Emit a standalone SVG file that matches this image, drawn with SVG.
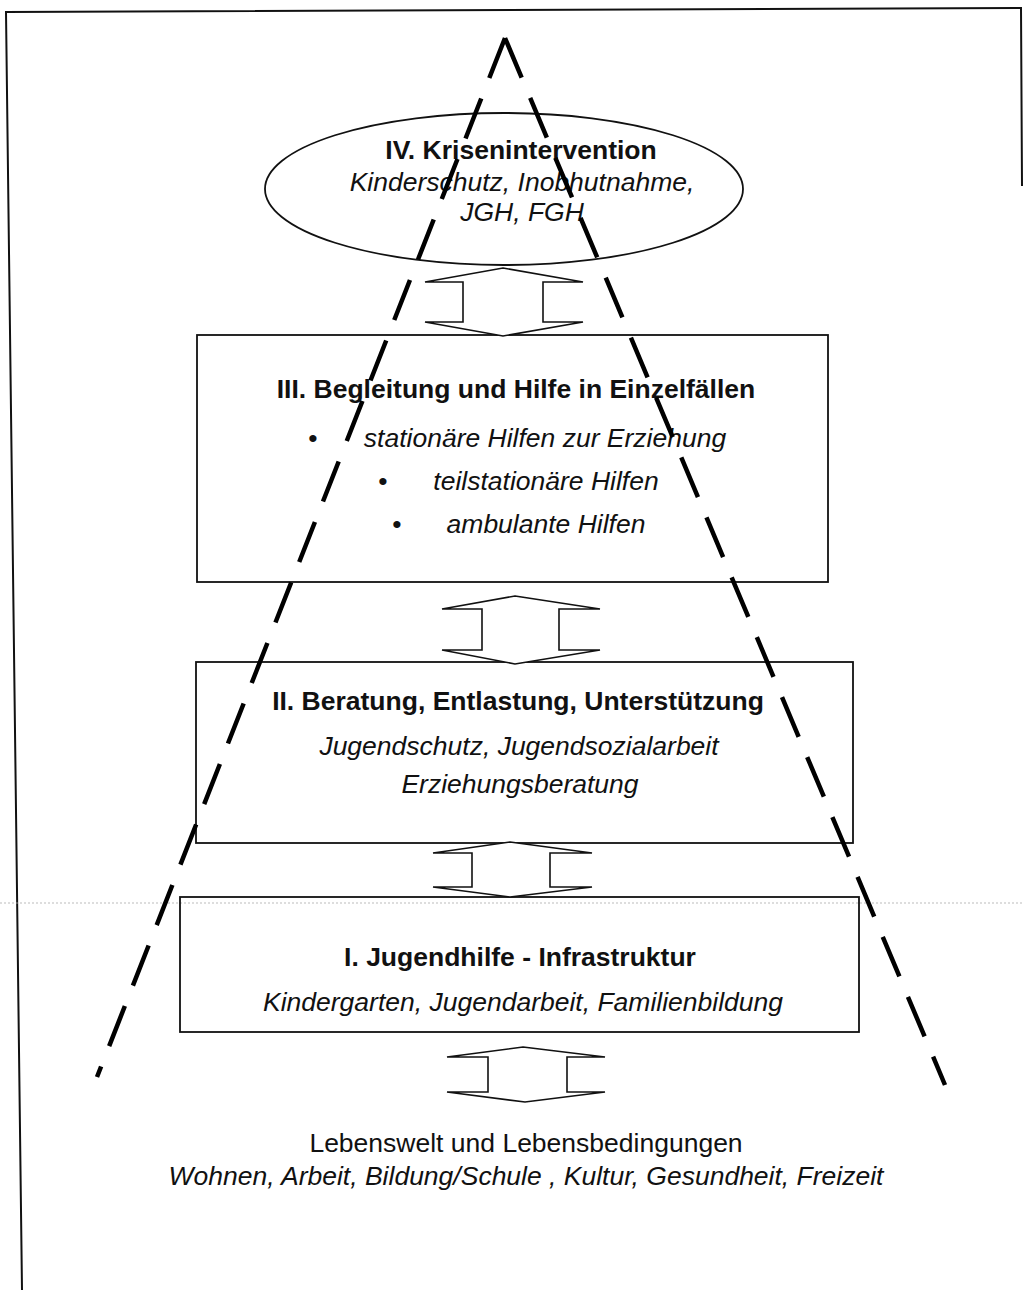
<svg xmlns="http://www.w3.org/2000/svg" width="1024" height="1290" viewBox="0 0 1024 1290">
<style>
.bg{fill:#fff}
.frame{fill:none;stroke:#111;stroke-width:2}
.box{fill:none;stroke:#111;stroke-width:1.8}
.arr{fill:#fff;stroke:#111;stroke-width:1.6;stroke-linejoin:miter}
.dash{fill:none;stroke:#000;stroke-width:4.5;stroke-dasharray:43 22}
.t{font-family:"Liberation Sans",Arial,sans-serif;font-size:26.5px;fill:#111;text-anchor:middle}
.b{font-weight:bold}
.i{font-style:italic}
.scan{stroke:#aaa;stroke-width:0.8;stroke-dasharray:2 2}
</style>
<rect class="bg" x="0" y="0" width="1024" height="1290"/>
<g id="frame">
<polyline class="frame" points="22,1290 6,12 1021,8 1022,186"/>
</g>
<line class="scan" x1="0" y1="903" x2="1024" y2="903"/>
<g id="node-iv">
<ellipse class="box" cx="504" cy="189" rx="239" ry="76"/>
<text class="t b" x="521" y="159">IV. Krisenintervention</text>
<text class="t i" x="522" y="191">Kinderschutz, Inobhutnahme,</text>
<text class="t i" x="522" y="221">JGH, FGH</text>
</g>
<g id="node-iii">
<rect class="box" x="197" y="335" width="631" height="247"/>
<text class="t b" x="516" y="398">III. Begleitung und Hilfe in Einzelfällen</text>
<text class="t" x="313" y="447">•</text>
<text class="t i" x="545" y="447">stationäre Hilfen zur Erziehung</text>
<text class="t" x="383" y="490">•</text>
<text class="t i" x="546" y="490">teilstationäre Hilfen</text>
<text class="t" x="397" y="533">•</text>
<text class="t i" x="546" y="533">ambulante Hilfen</text>
</g>
<g id="node-ii">
<rect class="box" x="196" y="662" width="657" height="181"/>
<text class="t b" x="518" y="710">II. Beratung, Entlastung, Unterstützung</text>
<text class="t i" x="519" y="755">Jugendschutz, Jugendsozialarbeit</text>
<text class="t i" x="520" y="793">Erziehungsberatung</text>
</g>
<g id="node-i">
<rect class="box" x="180" y="897" width="679" height="135"/>
<text class="t b" x="520" y="966">I. Jugendhilfe - Infrastruktur</text>
<text class="t i" x="523" y="1011">Kindergarten, Jugendarbeit, Familienbildung</text>
</g>
<g id="node-base">
<text class="t" x="526" y="1152">Lebenswelt und Lebensbedingungen</text>
<text class="t i" x="526" y="1185">Wohnen, Arbeit, Bildung/Schule , Kultur, Gesundheit, Freizeit</text>
</g>
<g id="connectors">
<polygon class="arr" points="503,268 583,282 543,282 543,322 583,322 503,336 425,322 463,322 463,282 425,282"/>
<polygon class="arr" points="515,596 600,609 559,609 559,650 600,650 515,664 442,650 482,650 482,609 442,609"/>
<polygon class="arr" points="510,842 592,853 550,853 550,887 592,887 510,897 433,887 472,887 472,853 433,853"/>
<polygon class="arr" points="523,1047 605,1057 567,1057 567,1092 605,1092 525,1102 447,1092 488,1092 488,1057 447,1057"/>
</g>
<g id="pyramid">
<line class="dash" x1="505" y1="38" x2="97" y2="1077"/>
<line class="dash" x1="505" y1="38" x2="945" y2="1085"/>
</g>
</svg>
